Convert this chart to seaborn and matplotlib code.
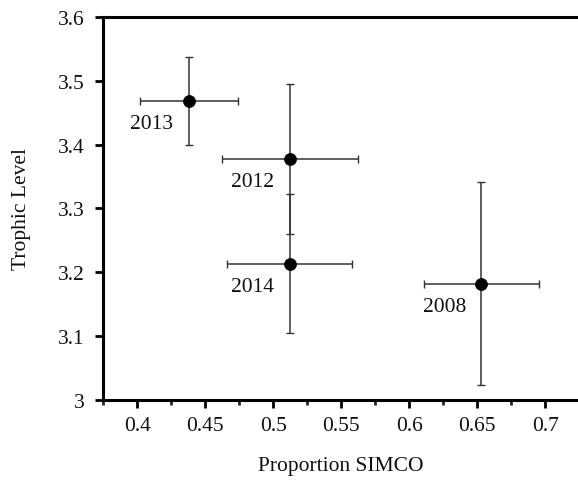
import matplotlib
matplotlib.use("Agg")
import matplotlib.pyplot as plt
import seaborn as sns
import pandas as pd
from matplotlib.ticker import FixedLocator

years = ["2013", "2012", "2014", "2008"]
prop_simco = [0.438, 0.512, 0.512, 0.653]
prop_err = [0.036, 0.050, 0.046, 0.042]
trophic = [3.469, 3.378, 3.213, 3.182]
trophic_err = [0.069, 0.118, 0.109, 0.159]

df = pd.DataFrame({"year": years, "x": prop_simco, "xerr": prop_err,
                   "y": trophic, "yerr": trophic_err})

sns.set_style("ticks")
plt.rcParams["font.family"] = ["Liberation Serif", "DejaVu Serif"]

fig = plt.figure(figsize=(5.78, 4.85), dpi=100)
ax = fig.add_axes([0.1787, 0.1738, 1.0 - 0.1787, 0.9623 - 0.1738])

ax.errorbar(df["x"], df["y"], xerr=df["xerr"], yerr=df["yerr"], fmt="none",
            ecolor="#333333", elinewidth=1.1, capsize=2.6, capthick=1.0, zorder=2)
sns.scatterplot(data=df, x="x", y="y", ax=ax, color="black", s=75,
                edgecolor="black", linewidth=0.5, zorder=3, legend=False)

for _, r in df.iterrows():
    ax.annotate(r["year"], (r["x"], r["y"]), xytext=(-37, -23),
                textcoords="offset pixels", ha="center", va="center",
                fontsize=15.5, color="#111111")

ax.set_xlim(0.375, 0.724)
ax.set_ylim(3.0, 3.6)
ax.xaxis.set_major_locator(FixedLocator([0.4, 0.45, 0.5, 0.55, 0.6, 0.65, 0.7]))
ax.xaxis.set_minor_locator(FixedLocator([0.375, 0.425, 0.475, 0.525, 0.575, 0.625, 0.675, 0.725]))
ax.set_xticklabels(["0.4", "0.45", "0.5", "0.55", "0.6", "0.65", "0.7"])
ax.set_yticks([3.0, 3.1, 3.2, 3.3, 3.4, 3.5, 3.6])
ax.set_yticklabels(["3", "3.1", "3.2", "3.3", "3.4", "3.5", "3.6"])

for s in ["left", "bottom", "top"]:
    ax.spines[s].set_visible(True)
    ax.spines[s].set_linewidth(2.2)
    ax.spines[s].set_color("black")
ax.spines["right"].set_visible(False)

ax.tick_params(axis="both", which="major", direction="out", length=5.5, width=2.0,
               labelsize=15.5, colors="black", labelcolor="#111111")
ax.tick_params(axis="x", which="major", pad=6)
ax.tick_params(axis="y", which="major", pad=8)
ax.tick_params(axis="x", which="minor", direction="out", length=3.5, width=2.0)

ax.set_xlabel("Proportion SIMCO", fontsize=15.5, labelpad=15, color="#111111")
ax.set_ylabel("Trophic Level", fontsize=15.5, labelpad=19, color="#111111")

fig.savefig("out.png", dpi=100)
